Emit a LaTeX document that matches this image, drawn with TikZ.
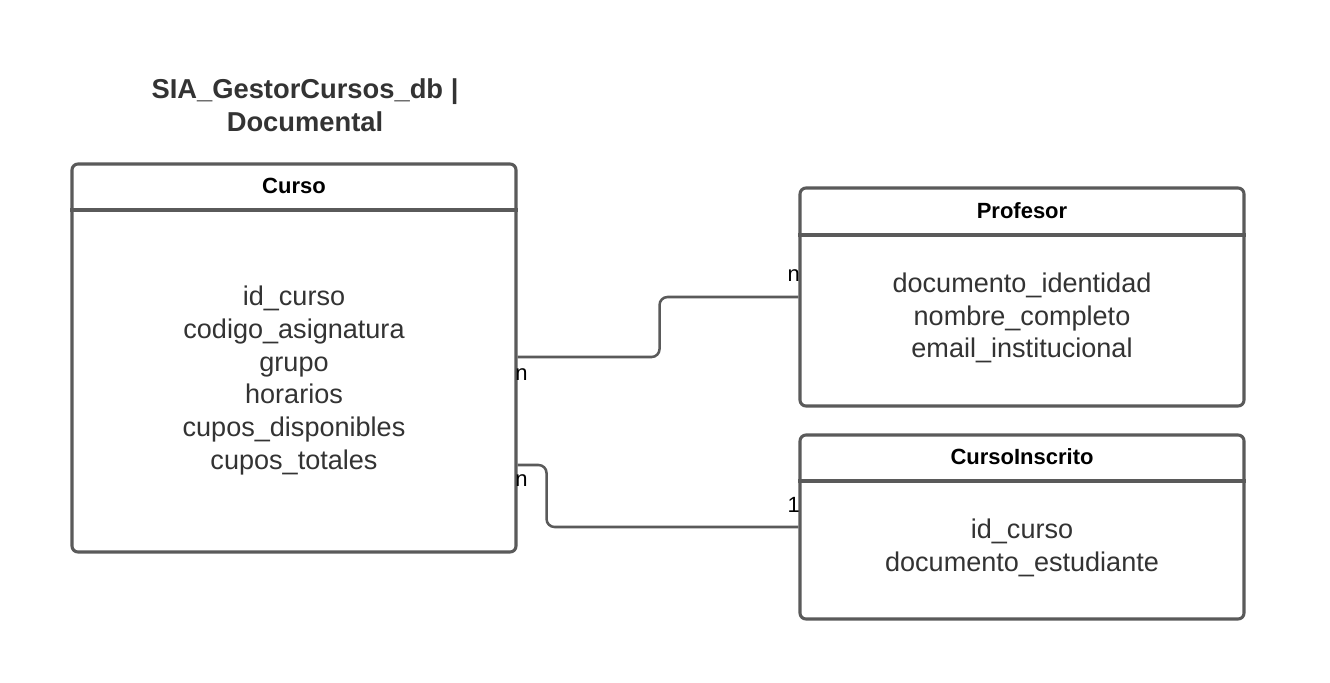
\documentclass[tikz,border=0pt]{standalone}
\usepackage{fontspec}
\setmainfont{Liberation Sans}
\usetikzlibrary{calc}
\definecolor{edge}{HTML}{5A5A5A}
\definecolor{ink}{HTML}{333333}
\begin{document}
\begin{tikzpicture}[x=0.75pt,y=-0.75pt,
  entity/.style={draw=edge,line width=2.3pt,rounded corners=4.5pt,minimum width=333pt,inner sep=0pt,fill=white},
  sep/.style={draw=edge,line width=2.3pt},
  head/.style={font=\fontsize{16.5}{19.8}\selectfont\bfseries,text=black,inner sep=0pt},
  fields/.style={font=\fontsize{20.3}{24.6}\selectfont,text=ink,align=center,inner sep=0pt},
  conn/.style={draw=edge,line width=1.9pt,rounded corners=6pt},
  card/.style={font=\fontsize{16.5}{18}\selectfont,text=black,inner sep=0pt},
  title/.style={font=\fontsize{20.5}{24.8}\selectfont\bfseries,text=ink,align=center,inner sep=0pt}]
\useasboundingbox (0,0) rectangle (1330,682);
\fill[white] (0,0) rectangle (1330,682);

\node[title] (title) at (305,105) {SIA\_GestorCursos\_db |\\Documental};

% Curso
\node[entity,minimum height=291pt] (curso) at (294,358) {};
\draw[sep] (curso.west |- 0,210) -- (curso.east |- 0,210);
\node[head] (cursoh) at (294,186) {Curso};
\node[fields] (cursof) at (294,380.5) {id\_curso\\codigo\_asignatura\\grupo\\horarios\\cupos\_disponibles\\cupos\_totales};

% Profesor
\node[entity,minimum height=163.5pt] (prof) at (1022,297) {};
\draw[sep] (prof.west |- 0,235) -- (prof.east |- 0,235);
\node[head] (profh) at (1022,211) {Profesor};
\node[fields] (proff) at (1022,318) {documento\_identidad\\nombre\_completo\\email\_institucional};

% CursoInscrito
\node[entity,minimum height=138pt] (insc) at (1022,527) {};
\draw[sep] (insc.west |- 0,481) -- (insc.east |- 0,481);
\node[head] (insch) at (1022,457) {CursoInscrito};
\node[fields] (inscf) at (1022,548) {id\_curso\\documento\_estudiante};

% connectors
\coordinate (c1s) at ($(curso.east)+(0,-1)$);
\draw[conn] (c1s) -- ++(142,0) |- (prof.west);
\coordinate (c2s) at ($(curso.east)+(0,107)$);
\draw[conn] (c2s) -- ++(29,0) |- (insc.west);

\node[card,anchor=west] (n1) at (515,375) {n};
\node[card,anchor=east] (n2) at (800,276) {n};
\node[card,anchor=west] (n3) at (515,481) {n};
\node[card,anchor=east] (o1) at (800,505) {1};
\end{tikzpicture}
\end{document}
